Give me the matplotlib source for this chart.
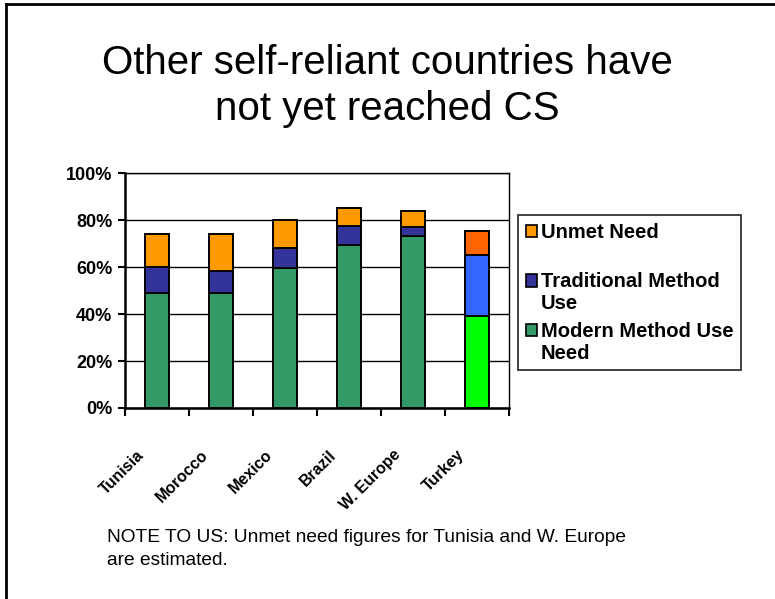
import numpy as np
import matplotlib
matplotlib.use("Agg")
import matplotlib.pyplot as plt
import matplotlib.patches as mpatches
from matplotlib.lines import Line2D
from matplotlib.transforms import ScaledTranslation
from matplotlib.legend_handler import HandlerPatch

plt.rcParams['font.family'] = ['Liberation Sans', 'DejaVu Sans']

countries = ["Tunisia", "Morocco", "Mexico", "Brazil", "W. Europe", "Turkey"]
modern = [49, 49, 59.5, 69.5, 73, 39]
traditional = [11, 9.5, 8.5, 8, 4, 26]
unmet = [14, 15.5, 12, 7.5, 7, 10.5]

modern_colors = ["#339966"] * 5 + ["#00FF00"]
trad_colors = ["#333399"] * 5 + ["#3366FF"]
unmet_colors = ["#FF9900"] * 5 + ["#FF6600"]

title = "Other self-reliant countries have\nnot yet reached CS"
note = "NOTE TO US: Unmet need figures for Tunisia and W. Europe\nare estimated."

W, H = 775, 599
fig = plt.figure(figsize=(W / 100, H / 100), dpi=100)
ax = fig.add_axes([125 / W, 1 - 408 / H, 384 / W, 235 / H])

x = np.arange(len(countries))
bw = 0.38
modern = np.array(modern)
traditional = np.array(traditional)
unmet = np.array(unmet)

ax.bar(x, modern, bw, color=modern_colors, edgecolor="black", linewidth=1.4, zorder=3)
ax.bar(x, traditional, bw, bottom=modern, color=trad_colors, edgecolor="black", linewidth=1.4, zorder=3)
ax.bar(x, unmet, bw, bottom=modern + traditional, color=unmet_colors, edgecolor="black", linewidth=1.4, zorder=3)

ax.set_xlim(-0.5, len(countries) - 0.5)
ax.set_ylim(0, 100)
ax.set_yticks(np.arange(0, 101, 20))
ax.set_yticklabels([f"{v}%" for v in range(0, 101, 20)], fontsize=13, fontweight="bold")
ax.yaxis.grid(True, color="black", linewidth=1.0, zorder=0)
ax.set_axisbelow(True)
ax.tick_params(axis="y", length=5, width=1.5, pad=4)

# category labels at centres, tick marks at boundaries
ax.set_xticks(x)
ax.set_xticklabels(countries, fontsize=11.5, fontweight="bold")
ax.set_xticks(np.arange(-0.5, len(countries), 1.0), minor=True)
ax.tick_params(axis="x", which="major", length=0, pad=32)
ax.tick_params(axis="x", which="minor", length=6, width=1.5)
for lbl in ax.get_xticklabels():
    lbl.set_rotation(45)
    lbl.set_ha("right")
    lbl.set_va("center")
    lbl.set_rotation_mode("anchor")
    lbl.set_transform(lbl.get_transform() + ScaledTranslation(-0.15, 0, fig.dpi_scale_trans))

for side in ["left", "bottom"]:
    ax.spines[side].set_linewidth(1.8)
for side in ["top", "right"]:
    ax.spines[side].set_linewidth(1.0)


def top_patch(legend, orig_handle, xdescent, ydescent, width, height, fontsize):
    return mpatches.Rectangle((-xdescent, -ydescent + 0.62 * fontsize), width, height)


handles = [
    mpatches.Patch(facecolor="#FF9900", edgecolor="black", linewidth=1.2),
    mpatches.Patch(facecolor="#333399", edgecolor="black", linewidth=1.2),
    mpatches.Patch(facecolor="#339966", edgecolor="black", linewidth=1.2),
]
labels = ["Unmet Need\n ", "Traditional Method\nUse", "Modern Method Use\nNeed"]
leg = fig.legend(handles, labels, loc="upper left", bbox_to_anchor=(518 / W, 1 - 215 / H),
                 borderaxespad=0, frameon=True, fancybox=False, prop={"weight": "bold", "size": 14.5},
                 handlelength=0.55, handleheight=0.55, handletextpad=0.2, labelspacing=0.42,
                 borderpad=0.38, handler_map={mpatches.Patch: HandlerPatch(patch_func=top_patch)})
leg.get_frame().set_edgecolor("black")
leg.get_frame().set_linewidth(1.3)
for t in leg.get_texts():
    t.set_linespacing(1.2)

fig.text(0.5, 1 - 86 / H, title, ha="center", va="center", fontsize=29, linespacing=1.3)
fig.text(107 / W, 1 - 549 / H, note, ha="left", va="center", fontsize=13.8, linespacing=1.5)

# slide frame (top and left edges)
fig.add_artist(Line2D([5.5 / W, 5.5 / W], [0, 1 - 3.5 / H], color="black", linewidth=2))
fig.add_artist(Line2D([5.5 / W, 1], [1 - 3.5 / H, 1 - 3.5 / H], color="black", linewidth=2))

fig.savefig("out.png", dpi=100, facecolor="white")
